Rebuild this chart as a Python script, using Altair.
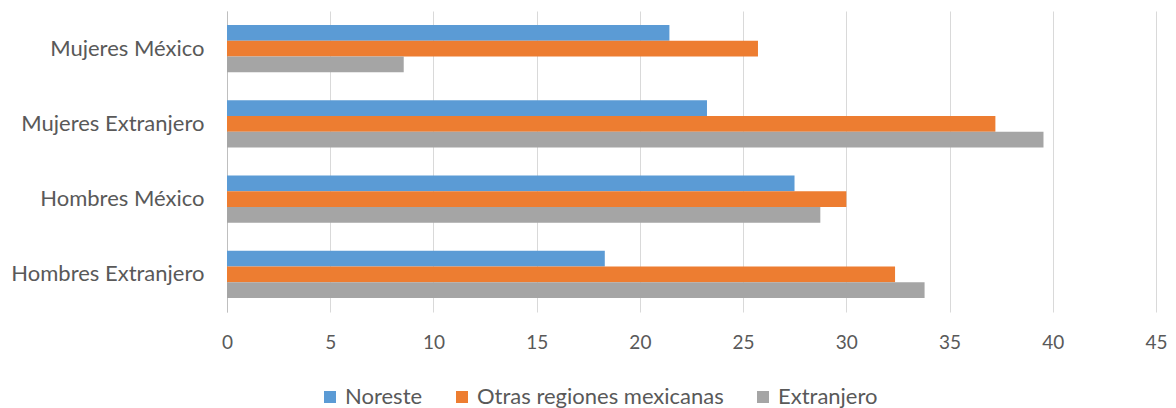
import altair as alt
import pandas as pd

categories = ["Mujeres México", "Mujeres Extranjero", "Hombres México", "Hombres Extranjero"]
series = ["Noreste", "Otras regiones mexicanas", "Extranjero"]
noreste = [21.43, 23.25, 27.49, 18.30]
otras = [25.72, 37.22, 30.0, 32.36]
extranjero = [8.56, 39.55, 28.74, 33.79]
colors = ["#5B9BD5", "#ED7D31", "#A5A5A5"]
x_ticks = [0, 5, 10, 15, 20, 25, 30, 35, 40, 45]

rows = []
for s, vals in zip(series, [noreste, otras, extranjero]):
    for c, v in zip(categories, vals):
        rows.append({"category": c, "series": s, "value": v})
df = pd.DataFrame(rows)

FONT = "Lato"
TXT = "#595959"

chart = alt.Chart(df).mark_bar().encode(
    x=alt.X(
        "value:Q",
        scale=alt.Scale(domain=[0, 45], nice=False, zero=True),
        axis=alt.Axis(
            values=x_ticks, grid=True, gridColor="#D9D9D9", gridWidth=1,
            domain=False, ticks=False, labelFontSize=19, labelColor=TXT,
            labelFont=FONT, labelPadding=21, title=None, labelFlush=False,
        ),
    ),
    y=alt.Y(
        "category:N", sort=categories,
        scale=alt.Scale(paddingInner=0.37, paddingOuter=0.185),
        axis=alt.Axis(
            domain=True, domainColor="#BFBFBF", domainWidth=1, ticks=False,
            labelFontSize=22, labelColor=TXT, labelFont=FONT, labelPadding=23,
            title=None, labelLimit=400,
        ),
    ),
    yOffset=alt.YOffset("series:N", sort=series,
                        scale=alt.Scale(paddingInner=0, paddingOuter=0)),
    color=alt.Color(
        "series:N", sort=series,
        scale=alt.Scale(domain=series, range=colors),
        legend=alt.Legend(
            orient="none", legendX=92, legendY=375, direction="horizontal",
            title=None, symbolType="square", symbolSize=144, symbolStrokeWidth=0,
            labelFontSize=22, labelColor=TXT, labelFont=FONT, labelOffset=4,
            columnPadding=28, padding=0, labelLimit=400,
        ),
    ),
).properties(
    width=929, height=301, autosize="none",
    padding={"left": 219, "top": 3, "right": 12, "bottom": 100},
).configure_view(stroke=None)

chart.save("out.html", embed_options={"renderer": "svg", "actions": False})
